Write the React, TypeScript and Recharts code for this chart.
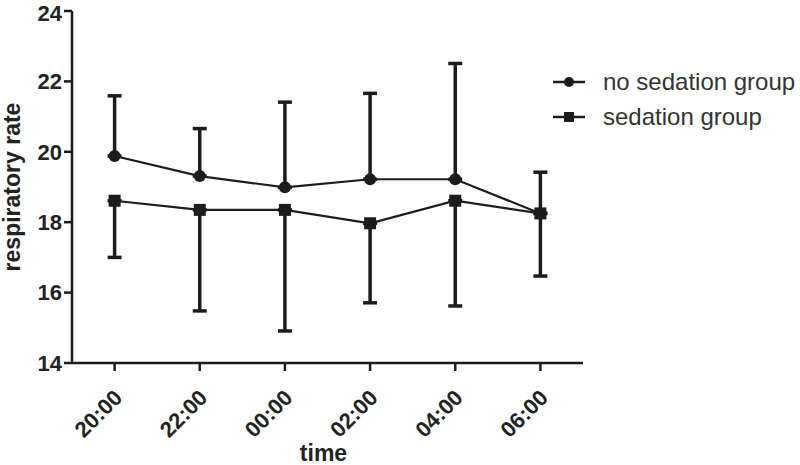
import React from "react";
import {
  LineChart,
  Line,
  XAxis,
  YAxis,
  ErrorBar,
  Legend,
} from "recharts";

const times = ["20:00", "22:00", "00:00", "02:00", "04:00", "06:00"];
const noSedationMean = [19.88, 19.31, 18.99, 19.22, 19.22, 18.25];
const noSedationUpper = [21.59, 20.66, 21.41, 21.66, 22.51, 19.42];
const sedationMean = [18.61, 18.35, 18.35, 17.97, 18.61, 18.25];
const sedationLower = [17.0, 15.48, 14.91, 15.71, 15.62, 16.47];
const yTicks = [14, 16, 18, 20, 22, 24];

const FONT = "'Liberation Sans', Arial, sans-serif";
const INK = "#1c1c1c";

const data = times.map((t, i) => ({
  time: t,
  noSed: noSedationMean[i],
  noSedErr: [0, +(noSedationUpper[i] - noSedationMean[i]).toFixed(2)],
  sed: sedationMean[i],
  sedErr: [+(sedationMean[i] - sedationLower[i]).toFixed(2), 0],
}));

const SquareDot = (props: any) => {
  const { cx, cy } = props;
  if (cx == null || cy == null) return null;
  return <rect x={cx - 6} y={cy - 6} width={12} height={12} fill={INK} />;
};

const CircleDot = (props: any) => {
  const { cx, cy } = props;
  if (cx == null || cy == null) return null;
  return <circle cx={cx} cy={cy} r={6} fill={INK} />;
};

const XTick = (props: any) => {
  const { x, y, payload } = props;
  return (
    <g transform={`translate(${x + 9},${y + 26})`}>
      <text
        x={0}
        y={0}
        textAnchor="end"
        transform="rotate(-45)"
        fontFamily={FONT}
        fontSize={22}
        fontWeight="bold"
        fill="#222"
      >
        {payload.value}
      </text>
    </g>
  );
};

const LegendBox = () => (
  <div style={{ fontFamily: FONT, fontSize: 24, color: "#333" }}>
    <div style={{ display: "flex", alignItems: "center", height: 35 }}>
      <svg width={50} height={14}>
        <line x1={0} y1={7} x2={32} y2={7} stroke={INK} strokeWidth={2.5} />
        <circle cx={16} cy={7} r={5} fill={INK} />
      </svg>
      <span>no sedation group</span>
    </div>
    <div style={{ display: "flex", alignItems: "center", height: 35 }}>
      <svg width={50} height={14}>
        <line x1={0} y1={7} x2={32} y2={7} stroke={INK} strokeWidth={2.5} />
        <rect x={11} y={2} width={10} height={10} fill={INK} />
      </svg>
      <span>sedation group</span>
    </div>
  </div>
);

export default function App() {
  return (
    <div style={{ position: "absolute", left: 0, top: 0, background: "#fff" }}>
      <LineChart
        width={800}
        height={465}
        data={data}
        margin={{ top: 11, right: 217, bottom: 0, left: 0 }}
      >
        <XAxis
          dataKey="time"
          height={102}
          padding={{ left: 42.6, right: 42.6 }}
          tick={<XTick />}
          tickSize={8}
          axisLine={{ stroke: INK, strokeWidth: 2.5 }}
          tickLine={{ stroke: INK, strokeWidth: 2.5 }}
          interval={0}
          label={{
            value: "time",
            position: "insideBottom",
            offset: 4,
            dx: -4,
            fontFamily: FONT,
            fontSize: 23,
            fontWeight: "bold",
            fill: "#222",
          }}
        />
        <YAxis
          width={72}
          domain={[14, 24]}
          ticks={yTicks}
          tickSize={8}
          tickMargin={2}
          axisLine={{ stroke: INK, strokeWidth: 2.5 }}
          tickLine={{ stroke: INK, strokeWidth: 2.5 }}
          tick={{ fontFamily: FONT, fontSize: 22, fontWeight: "bold", fill: "#222" }}
          label={{
            content: () => (
              <text
                x={20}
                y={187}
                transform="rotate(-90, 20, 187)"
                textAnchor="middle"
                fontFamily={FONT}
                fontSize={23}
                fontWeight="bold"
                fill="#222"
              >
                respiratory rate
              </text>
            ),
          }}
        />
        <Legend
          layout="vertical"
          align="center"
          verticalAlign="middle"
          content={<LegendBox />}
          wrapperStyle={{ left: 553, top: 64, width: 247 }}
        />
        <Line
          dataKey="noSed"
          name="no sedation group"
          type="linear"
          stroke={INK}
          strokeWidth={2.2}
          dot={<CircleDot />}
          activeDot={false}
          isAnimationActive={false}
        >
          <ErrorBar
            dataKey="noSedErr"
            direction="y"
            width={7}
            stroke={INK}
            strokeWidth={3.5}
            isAnimationActive={false}
          />
        </Line>
        <Line
          dataKey="sed"
          name="sedation group"
          type="linear"
          stroke={INK}
          strokeWidth={2.2}
          dot={<SquareDot />}
          activeDot={false}
          isAnimationActive={false}
        >
          <ErrorBar
            dataKey="sedErr"
            direction="y"
            width={7}
            stroke={INK}
            strokeWidth={3.5}
            isAnimationActive={false}
          />
        </Line>
      </LineChart>
    </div>
  );
}
